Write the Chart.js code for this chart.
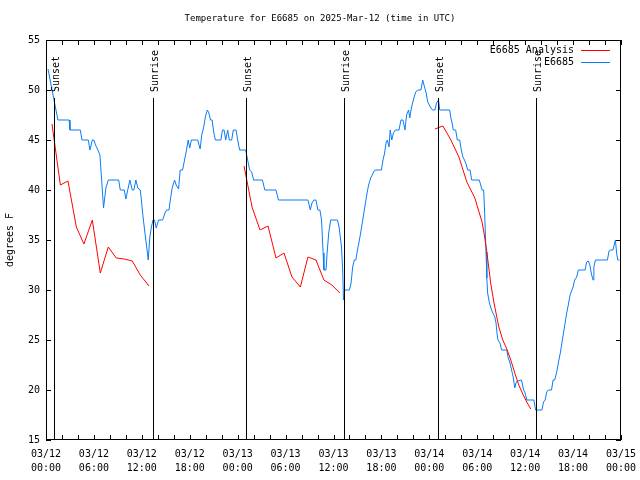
<!DOCTYPE html>
<html>
<head>
<meta charset="utf-8">
<script src="https://cdn.jsdelivr.net/npm/chart.js@4"></script>
<style>
  html, body { margin: 0; padding: 0; background: #fff; }
  #wrap { width: 640px; height: 480px; }
</style>
</head>
<body>
<div id="wrap"><canvas id="tempChart" width="640" height="480"></canvas></div>
<script>
// ---- data (hours since 03/12 00:00 UTC, degrees F) ----
const obsHours = [0.25,1.0,1.25,1.5,2.9,3.0,4.3,4.5,5.3,5.5,5.8,6.0,6.2,6.5,6.75,6.95,7.2,7.5,7.8,9.1,9.3,9.8,10.0,10.5,10.8,11.0,11.25,11.5,11.8,11.95,12.1,12.3,12.5,12.7,12.8,13.0,13.2,13.4,13.6,13.8,14.1,14.6,14.9,15.1,15.4,15.6,15.8,16.1,16.3,16.6,16.8,17.1,17.4,17.6,17.8,18.0,18.2,19.0,19.3,19.5,19.75,19.95,20.2,20.4,20.6,20.8,21.0,21.2,21.9,22.1,22.3,22.5,22.75,22.95,23.25,23.45,23.8,24.0,24.25,25.0,25.3,25.5,25.75,26.0,27.1,27.4,28.8,29.1,32.8,33.1,33.3,33.55,33.8,34.05,34.3,34.5,34.7,34.8,35.06,35.2,35.4,35.65,36.5,36.7,37.0,37.15,37.25,37.4,38.0,38.2,38.4,38.6,38.8,39.0,39.2,39.4,39.6,39.8,40.0,40.2,40.4,40.65,40.85,41.07,41.3,42.0,42.2,42.4,42.6,42.75,42.95,43.1,43.3,43.5,43.75,44.2,44.45,44.7,44.95,45.15,45.4,45.55,45.7,45.9,46.1,46.3,46.55,46.95,47.17,47.4,47.6,47.8,48.0,48.2,48.4,48.7,48.9,49.15,49.3,50.55,50.7,50.85,51.0,51.3,51.5,51.8,52.0,52.2,52.4,52.6,52.8,53.1,53.3,54.25,54.4,54.6,54.8,54.9,55.0,55.1,55.2,55.3,55.5,55.7,55.9,56.2,56.35,56.5,56.6,56.85,57.05,57.7,57.85,58.1,58.3,58.5,58.7,58.85,59.0,59.55,59.8,60.0,60.2,61.1,61.3,62.1,62.3,62.5,62.7,62.9,63.3,63.5,63.7,63.95,64.15,64.4,64.6,64.8,65.0,65.2,65.4,65.6,65.8,66.0,66.2,66.45,66.65,67.5,67.7,67.9,68.1,68.3,68.5,68.6,68.8,70.3,70.5,70.7,71.0,71.2,71.3,71.45,71.6,71.8];
const obsTemps = [52.1,49.0,48.0,47,47,46,46,45,45,44,45,45,44.5,44,43.5,41.2,38.2,40.2,41,41,40,40,39.1,41,40,40,41,40.2,40,39,37.7,36.3,35,33.7,33,35.3,36.3,37,37,36.2,37,37,37.7,38,38,39.2,40.2,41,40.5,40.1,42,42,43.2,44,45,44.2,45,45,44.1,45.5,46.3,47.3,48,47.7,47,47,45.8,45,45,46,46,45,46,45,45,46,46,45,44,44,42.8,42,41.8,41,41,40,40,39,39,38,38.7,39,39,38,38,37,33.7,32,32,33.7,35.7,37,37,36.3,34.3,32,29,30,30,30.7,32.3,33,33,34,34.8,35.7,36.7,37.7,38.7,39.7,40.5,41.2,41.5,41.9,42,42,43,43.7,44.8,45,44.3,46,45,45.7,46,46,47,47,46,47.5,48,47.2,48,48.7,49.3,49.8,50,50,51,50.3,49.7,48.8,48.5,48.2,48,48,48.7,49,48,48,47.2,46.7,46,46,45,45,44,43.3,43,42.6,42,42,41,41,40.6,40,40,38.3,36,33.8,31.2,29.7,28.8,28.2,27.8,27.3,26.7,25.5,25,24.7,24,24,23.3,22.7,22,21.3,20.2,20.7,20.9,21,20,19.7,19,19,18,18,18.8,19,19.8,20,20,21,21,21.8,22.7,23.7,24.7,25.7,26.7,27.7,28.5,29.4,29.9,30.3,31,31.3,32,32,32.8,32.9,32.5,31.6,31,32.3,33,33,33.9,34,34,34.7,35,33.7,33,33];

// analysis runs in three pieces, null breaks the line
const anaHours = [0.75,1.8,2.75,3.8,4.75,5.8,6.8,7.8,8.8,9.8,10.8,11.8,12.9,18,24.8,25.8,26.8,27.8,28.8,29.8,30.8,31.85,32.8,33.8,34.8,35.8,36.8,42,48.7,49.7,50.7,51.7,52.7,53.7,54.6,54.85,55.2,55.7,56.1,56.7,57.2,57.7,58.2,58.7,59.2,59.7,60.2,60.7];
const anaTemps = [46.6,40.5,40.9,36.3,34.6,37.0,31.7,34.3,33.2,33.1,32.9,31.5,30.4,null,42.4,38.3,36.0,36.4,33.2,33.7,31.3,30.3,33.3,33.0,31.0,30.5,29.7,null,46.1,46.4,45.0,43.3,40.8,39.2,36.8,35.7,33.8,30.6,28.7,26.3,25.0,24.1,23.0,21.7,20.5,19.6,18.8,18.1];

const sunHours = [1.0, 13.4, 25.0, 37.3, 49.1, 61.3];
const sunLabels = ["Sunset", "Sunrise", "Sunset", "Sunrise", "Sunset", "Sunrise"];
const dayLabels = ["03/12", "03/13", "03/14", "03/15"];

const MONO = '"DejaVu Sans Mono", "Liberation Mono", monospace';

function pairs(xs, ys){
    return xs.map((x, i) => ({ x: x, y: ys[i] }));
}

// frame, inward ticks, sun lines, title, legend
const gnuplotLook = {
    id: "gnuplotLook",
    afterDatasetsDraw(chart){
        const ctx = chart.ctx;
        const a = chart.chartArea;
        const xs = chart.scales.x;
        const ys = chart.scales.y;
        ctx.save();

        // sunrise / sunset markers
        ctx.strokeStyle = "#000";
        ctx.lineWidth = 1;
        ctx.fillStyle = "#000";
        ctx.font = "10px " + MONO;
        sunHours.forEach((h, i) => {
            const px = Math.round(xs.getPixelForValue(h)) + 0.5;
            ctx.beginPath();
            ctx.moveTo(px, a.top + 58);
            ctx.lineTo(px, a.bottom);
            ctx.stroke();
            ctx.save();
            ctx.translate(px + 2, a.top + 52);
            ctx.rotate(-Math.PI / 2);
            ctx.textAlign = "left";
            ctx.textBaseline = "middle";
            ctx.fillText(sunLabels[i], 0, 0);
            ctx.restore();
        });

        // frame
        ctx.strokeRect(a.left + 0.5, a.top + 0.5, a.right - a.left - 1, a.bottom - a.top - 1);

        // ticks on all four sides, pointing inward
        ctx.beginPath();
        for(let h = 0; h <= 72; h += 2){
            const px = Math.round(xs.getPixelForValue(h)) + 0.5;
            ctx.moveTo(px, a.bottom); ctx.lineTo(px, a.bottom - 5);
            ctx.moveTo(px, a.top); ctx.lineTo(px, a.top + 5);
        }
        for(let t = 15; t <= 55; t += 5){
            const py = Math.round(ys.getPixelForValue(t)) + 0.5;
            ctx.moveTo(a.left, py); ctx.lineTo(a.left + 5, py);
            ctx.moveTo(a.right, py); ctx.lineTo(a.right - 5, py);
        }
        ctx.stroke();

        // title + y label
        ctx.textAlign = "center";
        ctx.textBaseline = "middle";
        ctx.font = "9px " + MONO;
        ctx.fillText("Temperature for E6685 on 2025-Mar-12 (time in UTC)", 320, 19);
        ctx.font = "10px " + MONO;
        ctx.save();
        ctx.translate(10, 240);
        ctx.rotate(-Math.PI / 2);
        ctx.fillText("degrees F", 0, 0);
        ctx.restore();

        // legend, top right
        ctx.textAlign = "right";
        chart.data.datasets.forEach((ds, i) => {
            const y = 50 + i * 12;
            ctx.fillStyle = "#000";
            ctx.fillText(ds.label, 574, y);
            ctx.strokeStyle = ds.borderColor;
            ctx.beginPath();
            ctx.moveTo(581, y + 0.5);
            ctx.lineTo(610, y + 0.5);
            ctx.stroke();
        });

        ctx.restore();
    }
};

new Chart(document.getElementById("tempChart"), {
    type: "line",
    data: {
        datasets: [
            {
                label: "E6685 Analysis",
                data: pairs(anaHours, anaTemps),
                borderColor: "#ff0000",
                borderWidth: 1,
                pointRadius: 0,
                tension: 0,
                spanGaps: false
            },
            {
                label: "E6685",
                data: pairs(obsHours, obsTemps),
                borderColor: "#0a7cf5",
                borderWidth: 1,
                pointRadius: 0,
                tension: 0
            }
        ]
    },
    options: {
        responsive: false,
        animation: false,
        layout: { padding: { left: 0, right: 19, top: 40, bottom: 0 } },
        plugins: {
            legend: { display: false },
            tooltip: { enabled: false }
        },
        scales: {
            x: {
                type: "linear",
                min: 0,
                max: 72,
                afterFit(scale){
                    scale.height = 40;
                    scale.paddingLeft = 0;
                    scale.paddingRight = 0;
                },
                grid: { display: false, drawTicks: false },
                border: { display: false },
                ticks: {
                    stepSize: 6,
                    autoSkip: false,
                    maxRotation: 0,
                    padding: 7,
                    color: "#000",
                    font: { family: MONO, size: 10, lineHeight: 1.4 },
                    callback: (v) => {
                        const hh = v % 24;
                        return [dayLabels[Math.floor(v / 24)], (hh < 10 ? "0" : "") + hh + ":00"];
                    }
                }
            },
            y: {
                min: 15,
                max: 55,
                afterFit(scale){ scale.width = 46; },
                grid: { display: false, drawTicks: false },
                border: { display: false },
                ticks: {
                    stepSize: 5,
                    padding: 6,
                    color: "#000",
                    font: { family: MONO, size: 10 }
                }
            }
        }
    },
    plugins: [gnuplotLook]
});
</script>
</body>
</html>
